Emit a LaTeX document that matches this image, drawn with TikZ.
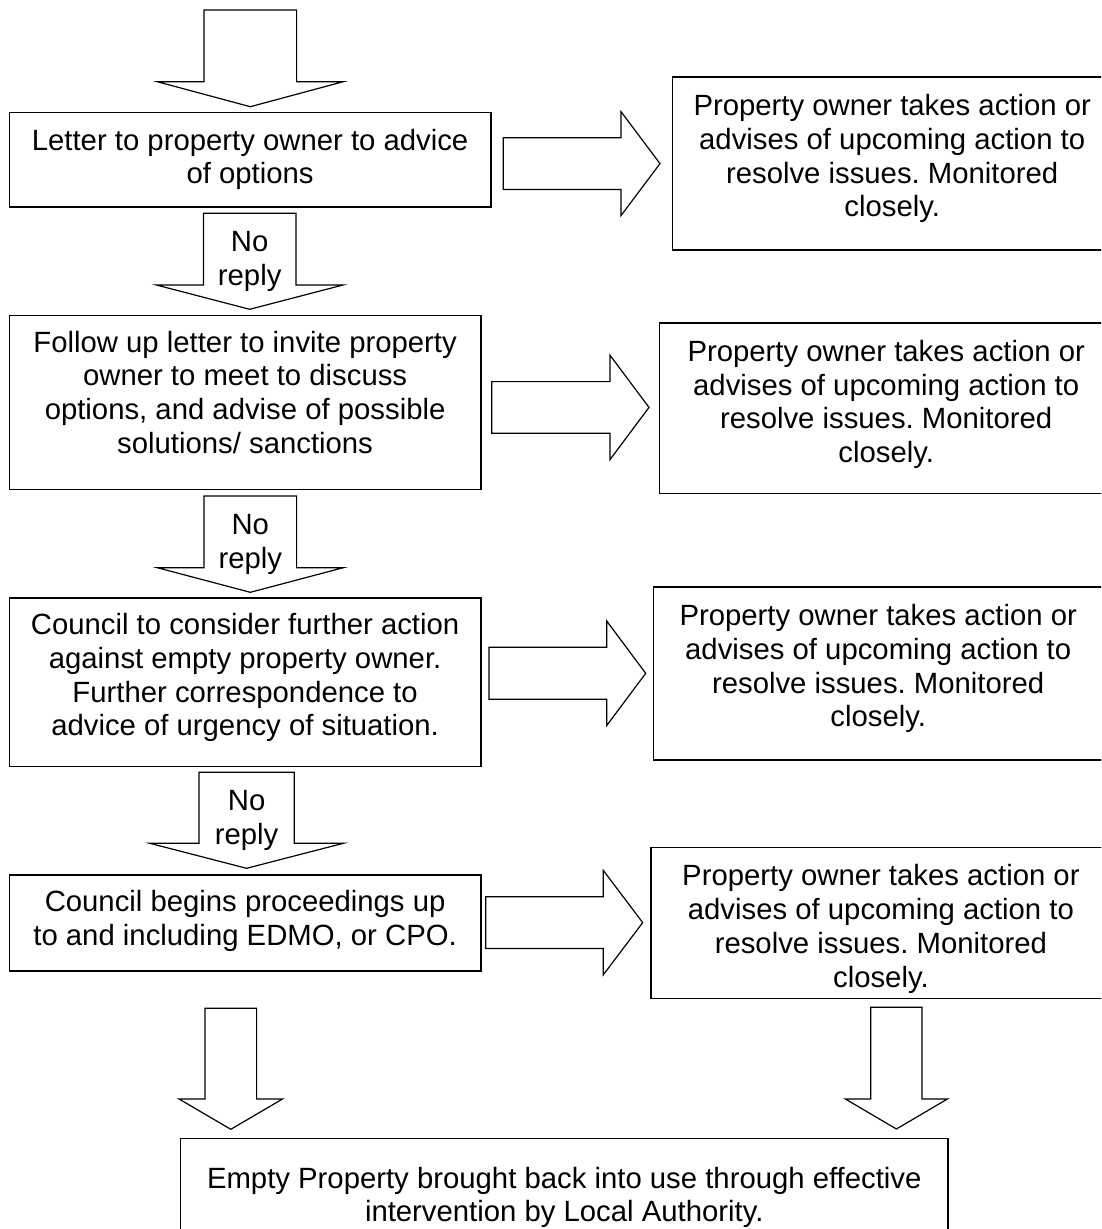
\documentclass[tikz,border=0pt]{standalone}
\usepackage{fontspec}
\setmainfont{Liberation Sans}
\usetikzlibrary{positioning, calc}
\frenchspacing

\tikzset{
    panel/.style={draw, line width=1.6pt, inner sep=0pt},
    words/.style={align=center, inner sep=0pt, font=\fontsize{29.3pt}{33.7pt}\selectfont},
    blockarrow/.style={draw, line width=1.2pt, line join=miter, fill=white},
}

% hollow block arrow pointing down: tail, tip, half shaft, half head, head length
\newcommand{\dropblock}[5]{%
    \draw[blockarrow] let \p1=(#1), \p2=(#2) in
        (\x1-#3,\y1) -- (\x1+#3,\y1) -- (\x1+#3,\y2+#5) -- (\x1+#4,\y2+#5)
        -- (\x2,\y2) -- (\x1-#4,\y2+#5) -- (\x1-#3,\y2+#5) -- cycle;}
% hollow block arrow pointing right
\newcommand{\pushblock}[5]{%
    \draw[blockarrow] let \p1=(#1), \p2=(#2) in
        (\x1,\y1+#3) -- (\x2-#5,\y1+#3) -- (\x2-#5,\y1+#4) -- (\x2,\y2)
        -- (\x2-#5,\y1-#4) -- (\x2-#5,\y1-#3) -- (\x1,\y1-#3) -- cycle;}

\begin{document}
\begin{tikzpicture}[x=1pt, y=-1pt]
    \useasboundingbox (0,0) rectangle (1101,1229);
    \clip (0,0) rectangle (1101,1229);

    % left column
    \node[panel, minimum width=481.2pt, minimum height=94.2pt] (letter) at (250.1,159.6) {};
    \node[words, below=17pt of letter.north] (lettertext)
        {Letter to property owner to advice\\of options};

    \node[panel, minimum width=471.2pt, minimum height=173.8pt] (followup) at (245.1,402.4) {};
    \node[words, below=16pt of followup.north] (followuptext)
        {Follow up letter to invite property\\owner to meet to discuss\\options, and advise of possible\\solutions/ sanctions};

    \node[panel, minimum width=471.2pt, minimum height=168.5pt] (consider) at (245.1,682.3) {};
    \node[words, below=16pt of consider.north] (considertext)
        {Council to consider further action\\against empty property owner.\\Further correspondence to\\advice of urgency of situation.};

    \node[panel, minimum width=471.2pt, minimum height=96pt] (proceed) at (245.1,923) {};
    \node[words, below=16pt of proceed.north] (proceedtext)
        {Council begins proceedings up\\to and including EDMO, or CPO.};

    % right column
    \node[panel, minimum width=439.7pt, minimum height=173pt] (owner1) at (892.2,163.5) {};
    \node[panel, minimum width=453.7pt, minimum height=170.6pt] (owner2) at (886.2,408) {};
    \node[panel, minimum width=449.7pt, minimum height=173pt] (owner3) at (878.2,673.5) {};
    \node[panel, minimum width=460.3pt, minimum height=151pt] (owner4) at (880.9,922.8) {};
    \foreach \i in {1,...,4}
        \node[words, below=18pt of owner\i.north] (owner\i text)
            {Property owner takes action or\\advises of upcoming action to\\resolve issues. Monitored\\closely.};

    % outcome
    \node[panel, minimum width=767.5pt, minimum height=121.5pt] (result) at (564.25,1199.25) {};
    \node[words, below=29pt of result.north] (resulttext)
        {Empty Property brought back into use through effective\\intervention by Local Authority.};

    % down arrows
    \coordinate (in0) at (250.3,10);
    \coordinate (in0tip) at (250.3,106.7);
    \dropblock{in0}{in0tip}{46.3}{93}{25}

    \coordinate (nr1) at (249.7,213.3);
    \coordinate (nr1tip) at (249.7,309.3);
    \dropblock{nr1}{nr1tip}{46.3}{93.3}{24.3}
    \node[words, below=18pt of nr1] (nr1text) {No\\reply};

    \coordinate (nr2) at (250.3,496);
    \coordinate (nr2tip) at (250.3,592.3);
    \dropblock{nr2}{nr2tip}{46.3}{93}{24.6}
    \node[words, below=18pt of nr2] (nr2text) {No\\reply};

    \coordinate (nr3) at (246.6,772.3);
    \coordinate (nr3tip) at (246.6,868.3);
    \dropblock{nr3}{nr3tip}{47.7}{96.7}{25}
    \node[words, below=18pt of nr3] (nr3text) {No\\reply};

    \coordinate (out1) at (230.8,1008.3);
    \coordinate (out1tip) at (230.8,1129.3);
    \dropblock{out1}{out1tip}{25.8}{51.7}{30.3}

    \coordinate (out2) at (896.4,1007.3);
    \coordinate (out2tip) at (896.4,1129);
    \dropblock{out2}{out2tip}{25.6}{51}{30}

    % right arrows
    \coordinate (act1) at (503.3,163.6);
    \coordinate (act1tip) at (660,163.6);
    \pushblock{act1}{act1tip}{25.8}{52}{39}

    \coordinate (act2) at (491.7,407.4);
    \coordinate (act2tip) at (649,407.4);
    \pushblock{act2}{act2tip}{25.8}{52.2}{39}

    \coordinate (act3) at (489,673.3);
    \coordinate (act3tip) at (645.7,673.3);
    \pushblock{act3}{act3tip}{26}{52.3}{39}

    \coordinate (act4) at (485.7,922.6);
    \coordinate (act4tip) at (642.7,922.6);
    \pushblock{act4}{act4tip}{25.8}{52.2}{39.4}
\end{tikzpicture}
\end{document}
